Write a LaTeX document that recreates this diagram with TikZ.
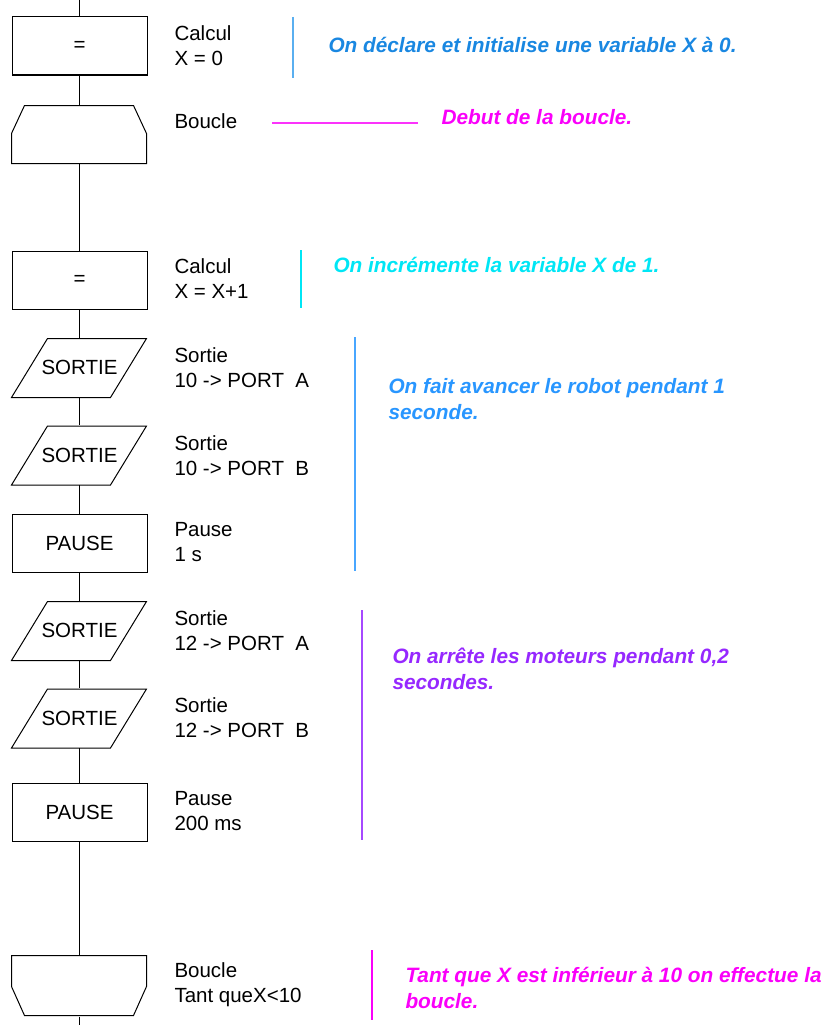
\documentclass[tikz,border=0pt]{standalone}
\usepackage{fontspec}
\setmainfont{Liberation Sans}
\definecolor{barreA}{RGB}{90,175,240}
\definecolor{bleuA}{RGB}{25,135,225}
\definecolor{magentaA}{RGB}{250,0,250}
\definecolor{cyanA}{RGB}{0,230,245}
\definecolor{bleuB}{RGB}{40,150,255}
\definecolor{violetA}{RGB}{150,40,255}

\begin{document}
\begin{tikzpicture}[x=1pt,y=-1pt,line width=1pt,
  every node/.style={inner sep=0pt,font=\fontsize{20.5}{25}\selectfont},
  bloc/.style={rectangle,minimum width=135pt,minimum height=58pt},
  calcbox/.style={bloc,draw},
  etiquette/.style={anchor=west,align=left},
  remarque/.style={anchor=west,align=left,font=\fontsize{20.8}{26}\selectfont\bfseries\itshape},
  trait/.style={line width=1.4pt}]
\useasboundingbox (0,0) rectangle (832,1025);
\foreach \n/\y/\lab in {c0/46/=,c1/280/=,p1/543/PAUSE,p2/812/PAUSE} {
  \node[calcbox] (\n) at (79.5,\y) {\lab};
}
\foreach \n/\y in {s1/367.5,s2/455,s3/630.5,s4/718} {
  \node[bloc,minimum height=59pt] (\n) at (79.5,\y) {SORTIE};
  \draw (\n.south west) -- ++(36,-59) -- ++(99,0) -- ++(-36,59) -- cycle;
}
\node[bloc] (b0) at (79.5,134) {};
\draw (b0.south west) -- ++(0,-30) -- ++(13,-28) -- ++(109,0) -- ++(13,28) -- ++(0,30) -- cycle;
\node[bloc,minimum height=60pt] (b1) at (79.5,986) {};
\draw (b1.north west) -- ++(0,31) -- ++(13,29) -- ++(109,0) -- ++(13,-29) -- ++(0,-31) -- cycle;
\coordinate (haut) at (79.5,0);
\coordinate (bas) at (79.5,1025);
\draw (haut) -- (c0);
\foreach \a/\b in {c0/b0,b0/c1,c1/s1,s1/s2,s2/p1,p1/s3,s3/s4,s4/p2,p2/b1} {
  \draw (\a) -- (\b);
}
\draw (b1) -- (bas);
\foreach \n/\y/\lab in {c0/46/{Calcul\\X = 0},b0/121/Boucle,c1/279/{Calcul\\X = X+1},s1/368/{Sortie\\10 -> PORT~~A},s2/455.5/{Sortie\\10 -> PORT~~B},p1/542.5/{Pause\\1 s},s3/630.5/{Sortie\\12 -> PORT~~A},s4/718/{Sortie\\12 -> PORT~~B},p2/811.5/{Pause\\200 ms},b1/985/{Boucle\\Tant queX<10}} {
  \node[etiquette] (l\n) at (174,\y) {\lab};
}
\node[remarque,text=bleuA] (r1) at (328,45) {On déclare et initialise une variable X à 0.};
\node[remarque,text=magentaA] (r2) at (441,117) {Debut de la boucle.};
\node[remarque,text=cyanA] (r3) at (333,265) {On incrémente la variable X de 1.};
\node[remarque,text=bleuB] (r4) at (388,399.5) {On fait avancer le robot pendant 1\\seconde.};
\node[remarque,text=violetA] (r5) at (392,668.5) {On arrête les moteurs pendant 0,2\\secondes.};
\node[remarque,text=magentaA] (r6) at (405,988) {Tant que X est inférieur à 10 on effectue la\\boucle.};
\draw[trait,barreA] (293,17) -- (293,78);
\draw[trait,magentaA!80!white] (272,123) -- (418,123);
\draw[trait,cyanA] (301,250) -- (301,308);
\draw[trait,bleuB!85!white] (355,337) -- (355,571);
\draw[trait,violetA!85!white] (362,610) -- (362,840);
\draw[trait,magentaA] (372,950) -- (372,1020);
\end{tikzpicture}
\end{document}
